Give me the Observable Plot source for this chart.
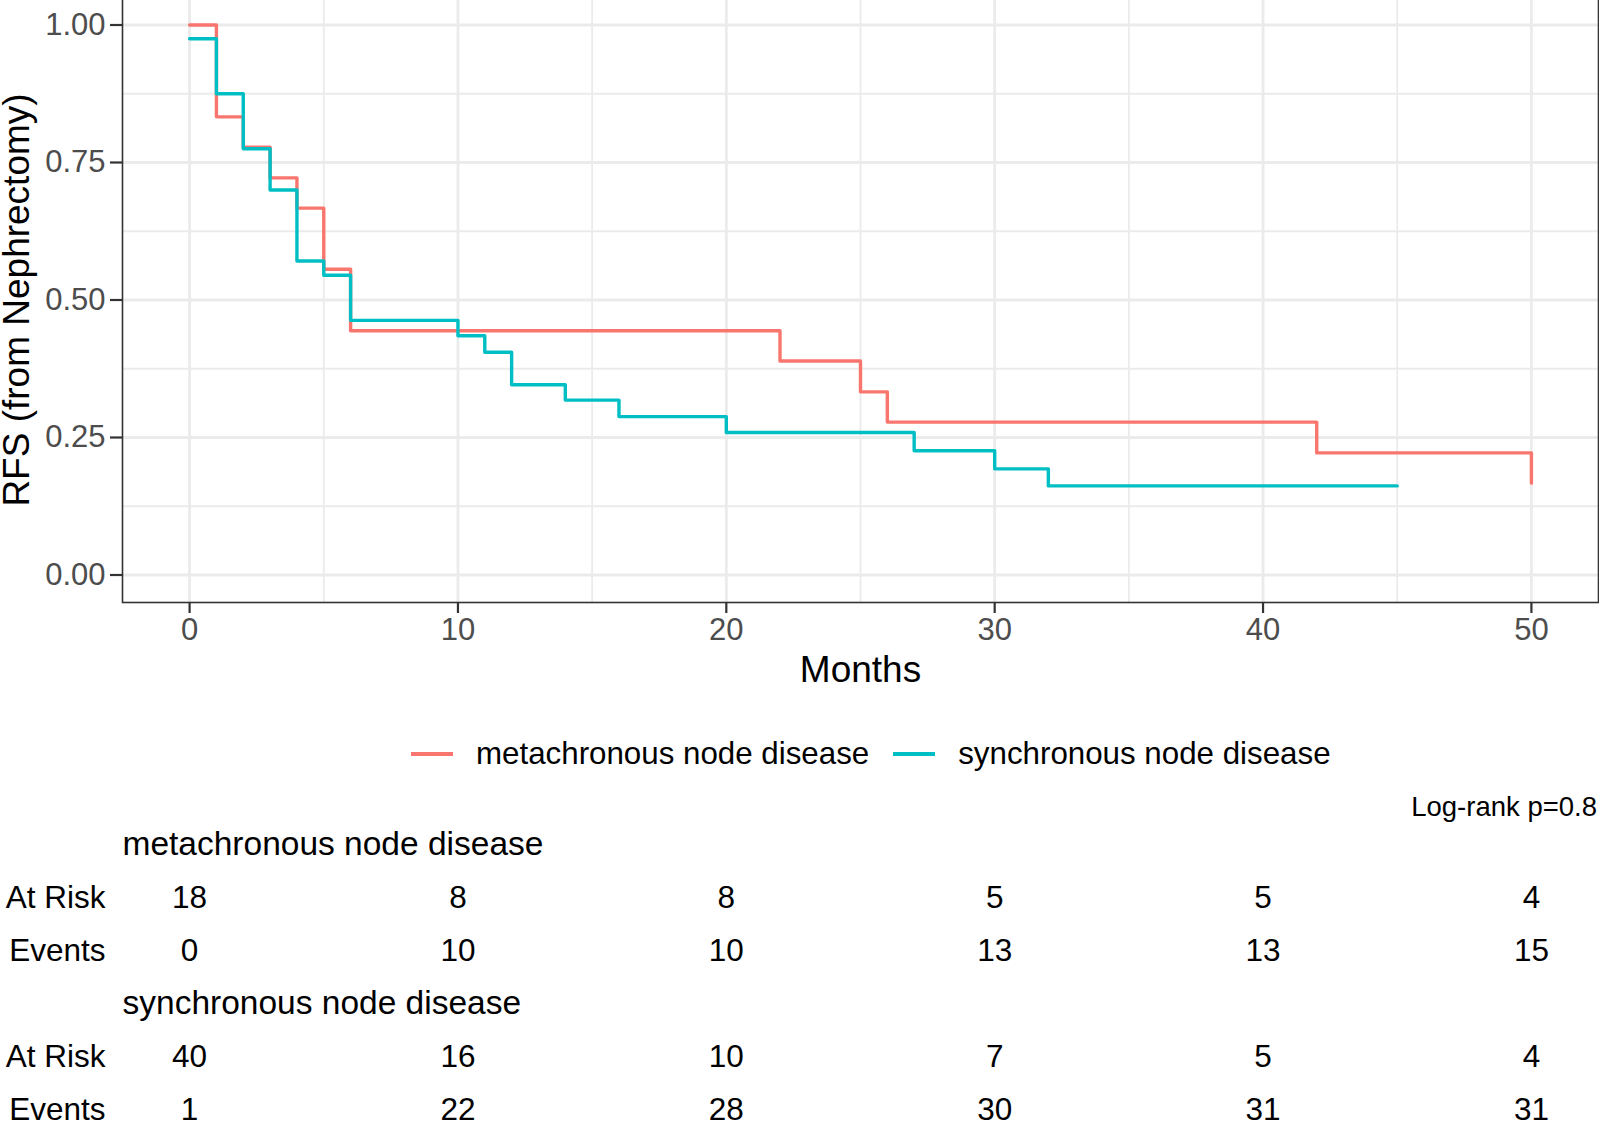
<!DOCTYPE html>
<html>
<head>
<meta charset="utf-8">
<script src="https://cdn.jsdelivr.net/npm/d3@7"></script>
<script src="https://cdn.jsdelivr.net/npm/@observablehq/plot@0.6"></script>
<style>
  body { margin: 0; background: white; }
  #fig { position: relative; width: 1599px; height: 1122px; overflow: hidden;
         font-family: "Liberation Sans", Arial, sans-serif; }
  #fig > * { position: absolute; }
  #legend { top: 736px; left: 411px; display: flex; align-items: center; font-size: 31.3px; color: #000; }
  #legend .key { display: flex; align-items: center; margin-right: 24px; }
  #legend .sw { width: 42px; height: 3.5px; margin-right: 23px; }
  #pval { top: 791px; right: 2px; font-size: 27.5px; color: #000; }
</style>
</head>
<body>
<div id="fig">
  <div id="chart"></div>
  <div id="legend"></div>
  <div id="pval">Log-rank p=0.8</div>
  <div id="table"></div>
</div>
<script>
const groups = ["metachronous node disease", "synchronous node disease"]
const colors = ["#F8766D", "#00BFC4"]

// KM steps
const metaTime = [0, 1, 2, 3, 4, 5, 6, 22, 25, 26, 42, 50]
const metaSurv = [1.0, 0.833, 0.778, 0.722, 0.667, 0.556, 0.444, 0.389, 0.333, 0.278, 0.222, 0.167]
const syncTime = [0, 1, 2, 3, 4, 5, 6, 10, 11, 12, 14, 16, 20, 27, 30, 32, 45]
const syncSurv = [0.975, 0.875, 0.775, 0.70, 0.571, 0.545, 0.463, 0.435, 0.405, 0.346, 0.318, 0.288, 0.259, 0.226, 0.193, 0.162, 0.162]

// risk table
const tableTimes = [0, 10, 20, 30, 40, 50]
const metaRisk = [18, 8, 8, 5, 5, 4]
const metaEvents = [0, 10, 10, 13, 13, 15]
const syncRisk = [40, 16, 10, 7, 5, 4]
const syncEvents = [1, 22, 28, 30, 31, 31]

const xTicks = [0, 10, 20, 30, 40, 50]
const xMinor = [5, 15, 25, 35, 45]
const yTicks = [0, 0.25, 0.5, 0.75, 1]
const yMinor = [0.125, 0.375, 0.625, 0.875]

const curves = [
  ...metaTime.map((t, i) => ({group: groups[0], time: t, surv: metaSurv[i]})),
  ...syncTime.map((t, i) => ({group: groups[1], time: t, surv: syncSurv[i]}))
]

const font = "Liberation Sans, Arial, sans-serif"
const xDomain = [-2.5, 52.5]

let chart = Plot.plot({
  width: 1599,
  height: 700,
  marginTop: -3,
  marginBottom: 98,
  marginLeft: 122,
  marginRight: 1,
  x: { domain: xDomain },
  y: { domain: [-0.05, 1.05] },
  color: { domain: groups, range: colors },
  style: { fontFamily: font, fontSize: "31px", color: "#4D4D4D", background: "white" },
  marks: [
    Plot.gridX(xMinor, { stroke: "#EBEBEB", strokeOpacity: 1, strokeWidth: 1.8 }),
    Plot.gridY(yMinor, { stroke: "#EBEBEB", strokeOpacity: 1, strokeWidth: 1.8 }),
    Plot.gridX(xTicks, { stroke: "#EBEBEB", strokeOpacity: 1, strokeWidth: 2.8 }),
    Plot.gridY(yTicks, { stroke: "#EBEBEB", strokeOpacity: 1, strokeWidth: 2.8 }),
    Plot.line(curves, {
      x: "time", y: "surv", z: "group", stroke: "group",
      curve: "step-after", strokeWidth: 3.4
    }),
    Plot.frame({ stroke: "#333333", strokeWidth: 1.6 }),
    Plot.axisX(xTicks, { tickSize: 11, tickPadding: 4.5, stroke: "#333333", strokeWidth: 2.2, label: null }),
    Plot.axisY(yTicks, { tickSize: 12, tickPadding: 5, stroke: "#333333", strokeWidth: 2.2,
      tickFormat: d3.format(".2f"), label: null }),
    Plot.text(["Months"], { frameAnchor: "bottom", dy: 79, fontSize: 37, fill: "#000" }),
    Plot.text(["RFS (from Nephrectomy)"], { frameAnchor: "left", textAnchor: "middle", dx: -105,
      rotate: -90, fontSize: 37, fill: "#000" })
  ]
})
d3.select("#chart").append(() => chart)

// legend
const legend = d3.select("#legend")
groups.forEach((g, i) => {
  const k = legend.append("div").attr("class", "key")
  k.append("div").attr("class", "sw").style("background", colors[i])
  k.append("span").text(g)
})

// risk table rows
const rowKeys = ["t0", "r0", "e0", "t1", "r1", "e1"]
const titles = [{row: "t0", label: groups[0]}, {row: "t1", label: groups[1]}]
const rowLabels = [
  {row: "r0", label: "At Risk"}, {row: "e0", label: "Events"},
  {row: "r1", label: "At Risk"}, {row: "e1", label: "Events"}
]
const cells = [
  ...tableTimes.map((t, i) => ({row: "r0", time: t, value: metaRisk[i]})),
  ...tableTimes.map((t, i) => ({row: "e0", time: t, value: metaEvents[i]})),
  ...tableTimes.map((t, i) => ({row: "r1", time: t, value: syncRisk[i]})),
  ...tableTimes.map((t, i) => ({row: "e1", time: t, value: syncEvents[i]}))
]

let table = Plot.plot({
  width: 1599,
  height: 302,
  marginTop: 0,
  marginBottom: 0,
  marginLeft: 122,
  marginRight: 1,
  x: { domain: xDomain, axis: null },
  y: { type: "point", domain: rowKeys, range: [22, 290], padding: 0, axis: null },
  style: { fontFamily: font, background: "transparent" },
  marks: [
    Plot.text(titles, { y: "row", text: "label", frameAnchor: "left", textAnchor: "start", fontSize: 33.5, fill: "#000" }),
    Plot.text(rowLabels, { y: "row", text: "label", frameAnchor: "left", textAnchor: "end", dx: -17, fontSize: 31.5, fill: "#000" }),
    Plot.text(cells, { x: "time", y: "row", text: "value", fontSize: 31.5, fill: "#000" })
  ]
})
d3.select("#table").style("top", "820px").append(() => table)
</script>
</body>
</html>
